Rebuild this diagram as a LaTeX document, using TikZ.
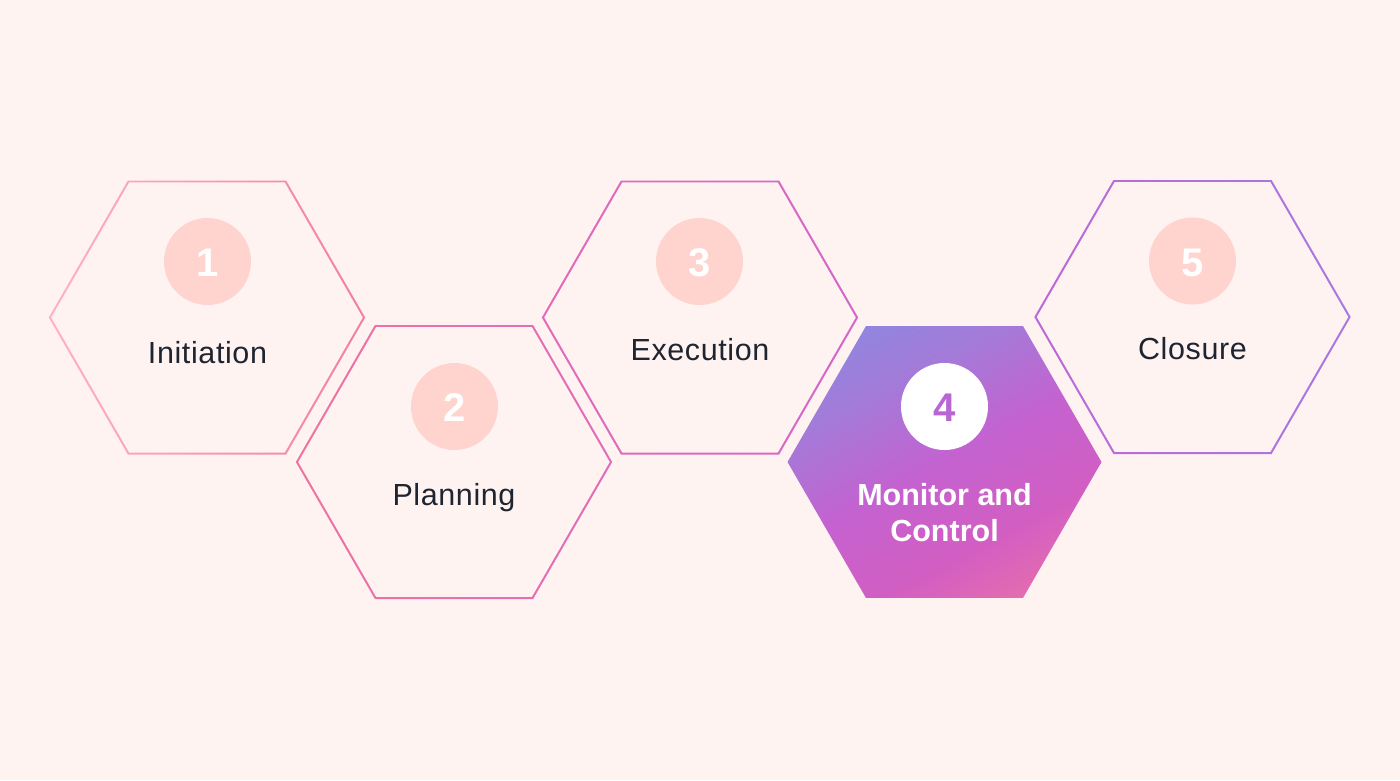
\documentclass[tikz,border=0pt]{standalone}
\usepackage{fontspec}
\setmainfont{Liberation Sans}
\newfontfamily\lblfont[LetterSpace=2]{Liberation Sans}
\usetikzlibrary{calc}
\definecolor{bg}{HTML}{FFF3F2}
\definecolor{circ}{HTML}{FFD3CE}
\definecolor{txt}{HTML}{1E2430}
\definecolor{hAl}{HTML}{FFB2C2}
\definecolor{hAr}{HTML}{F27FA2}
\definecolor{hBl}{HTML}{EF73A0}
\definecolor{hBr}{HTML}{E06CBA}
\definecolor{hCl}{HTML}{E26AB8}
\definecolor{hCr}{HTML}{D466CA}
\definecolor{hEl}{HTML}{BC68D8}
\definecolor{hEr}{HTML}{A878E0}
\definecolor{g1}{HTML}{8A8AE2}
\definecolor{g2}{HTML}{A47AD8}
\definecolor{g3}{HTML}{C462D0}
\definecolor{g4}{HTML}{D25EC2}
\definecolor{g5}{HTML}{EC72A8}
\definecolor{four}{HTML}{B866D4}
\pgfdeclarehorizontalshading{monshade}{100bp}{color(0bp)=(g1); color(18bp)=(g1); color(34bp)=(g2); color(50bp)=(g3); color(66bp)=(g4); color(82bp)=(g5); color(100bp)=(g5)}
\newcommand\hexring[4]{%
  \shade[left color=#3, right color=#4, even odd rule]
    ([shift={(#1)}]0:158.2) -- ([shift={(#1)}]60:158.2) -- ([shift={(#1)}]120:158.2) --
    ([shift={(#1)}]180:158.2) -- ([shift={(#1)}]240:158.2) -- ([shift={(#1)}]300:158.2) -- cycle
    ([shift={(#1)}]0:155.9) -- ([shift={(#1)}]60:155.9) -- ([shift={(#1)}]120:155.9) --
    ([shift={(#1)}]180:155.9) -- ([shift={(#1)}]240:155.9) -- ([shift={(#1)}]300:155.9) -- cycle;}
\tikzset{
  numcirc/.style={circle, fill=circ, minimum size=87pt, inner sep=0pt},
  numtxt/.style={anchor=base, text=white, font=\fontsize{40}{40}\selectfont\bfseries},
  label/.style={anchor=base, text=txt, font=\lblfont\fontsize{30.5}{36}\selectfont},
  boldlabel/.style={anchor=base, text=white, font=\fontsize{30.5}{36}\selectfont\bfseries}
}
\begin{document}
\begin{tikzpicture}[x=1pt,y=-1pt]
\useasboundingbox (0,0) rectangle (1400,780);
\fill[bg] (0,0) rectangle (1400,780);
% hexagon centres
\coordinate (h1) at (207,317.5);
\coordinate (h2) at (454,462);
\coordinate (h3) at (700,317.5);
\coordinate (h4) at (944.5,462);
\coordinate (h5) at (1192.5,317);
% rings
\hexring{h1}{}{hAl}{hAr}
\hexring{h2}{}{hBl}{hBr}
\hexring{h3}{}{hCl}{hCr}
\hexring{h5}{}{hEl}{hEr}
% filled hexagon 4
\shade[shading=monshade, shading angle=-62]
  ([shift={(h4)}]0:157) -- ([shift={(h4)}]60:157) -- ([shift={(h4)}]120:157) --
  ([shift={(h4)}]180:157) -- ([shift={(h4)}]240:157) -- ([shift={(h4)}]300:157) -- cycle;
% circles
\node[numcirc] (c1) at (207.5,261.5) {};
\node[numcirc] (c2) at (454.5,406.5) {};
\node[numcirc] (c3) at (699.5,261.5) {};
\node[numcirc, fill=white] (c4) at (944.5,406.5) {};
\node[numcirc] (c5) at (1192.5,261) {};
% numbers
\node[numtxt] (n1) at (207.5,276.5) {1};
\node[numtxt] (n2) at (454.5,421.5) {2};
\node[numtxt] (n3) at (699.5,276.5) {3};
\node[numtxt, text=four] (n4) at (944.5,421.5) {4};
\node[numtxt] (n5) at (1192.5,276) {5};
% labels
\node[label] (l1) at (207.5,363) {Initiation};
\node[label] (l2) at (454,505) {Planning};
\node[label] (l3) at (700,360) {Execution};
\node[boldlabel] (l4a) at (944.5,505) {Monitor and};
\node[boldlabel] (l4b) at (944.5,541) {Control};
\node[label] (l5) at (1192.5,359) {Closure};
\end{tikzpicture}
\end{document}
